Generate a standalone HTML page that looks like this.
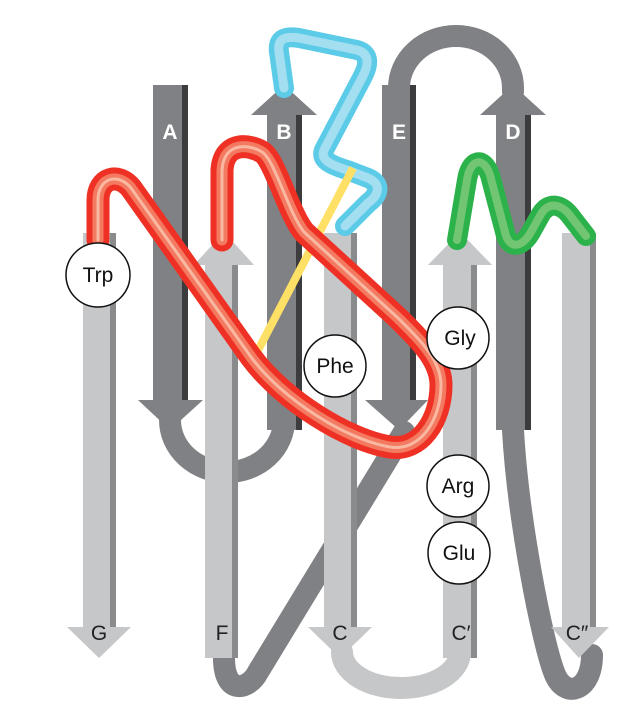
<!DOCTYPE html>
<html><head><meta charset="utf-8"><style>html,body{margin:0;padding:0;background:#fff}svg{display:block}</style></head>
<body>
<svg width="617" height="701" viewBox="0 0 617 701" xmlns="http://www.w3.org/2000/svg">
<g fill="none" stroke-linecap="round" stroke-linejoin="round">
<path d="M170,420 A57,52 0 0 0 284,420" stroke="#808184" stroke-width="22"/>
<path d="M399,92 L399,88 A57,52 0 0 1 513,88 L513,92" stroke="#808184" stroke-width="22"/>
<path d="M404,432 L258,672 C249,690 224,696 224,658" stroke="#808184" stroke-width="22"/>
<path d="M513,430 C518,520 542,640 554,672 C564,700 592,692 592,655" stroke="#808184" stroke-width="22"/>
<path d="M342,652 A59,36 0 0 0 460,652" stroke="#c6c7c9" stroke-width="22"/>
</g>
<g stroke="none">
<polygon points="83,233 116,233 116,627 131,627 99,658 67,627 83,627" fill="#c6c7c9"/>
<rect x="110" y="233" width="6" height="394" fill="#8a8b8d"/>
<polygon points="324,233 357,233 357,627 372,627 340,658 308,627 324,627" fill="#c6c7c9"/>
<rect x="351" y="233" width="6" height="394" fill="#8a8b8d"/>
<polygon points="562,233 596,233 596,627 609,627 579,658 551,627 562,627" fill="#c6c7c9"/>
<rect x="590" y="233" width="6" height="394" fill="#8a8b8d"/>
<polygon points="205,658 238,658 238,265 254,265 224,232 194,265 205,265" fill="#c6c7c9"/>
<rect x="232" y="265" width="6" height="393" fill="#8a8b8d"/>
<polygon points="443,658 477,658 477,265 492,265 460,232 428,265 443,265" fill="#c6c7c9"/>
<rect x="471" y="265" width="6" height="393" fill="#8a8b8d"/>
<polygon points="153,85 188,85 188,400 203,400 170,430 138,400 153,400" fill="#808184"/>
<rect x="182" y="85" width="6" height="315" fill="#3c3c3e"/>
<polygon points="382,85 416,85 416,400 428,400 399,430 365,400 382,400" fill="#808184"/>
<rect x="410" y="85" width="6" height="315" fill="#3c3c3e"/>
<polygon points="267,430 302,430 302,115 317,115 284,85 251,115 267,115" fill="#808184"/>
<rect x="296" y="115" width="6" height="315" fill="#3c3c3e"/>
<polygon points="496,430 531,430 531,115 546,115 513,85 480,115 496,115" fill="#808184"/>
<rect x="525" y="115" width="6" height="315" fill="#3c3c3e"/>
</g>
<g font-family="Liberation Sans, sans-serif" font-size="21" text-anchor="middle">
<text x="170" y="139" fill="#fff" font-weight="bold">A</text>
<text x="284" y="139" fill="#fff" font-weight="bold">B</text>
<text x="399" y="139" fill="#fff" font-weight="bold">E</text>
<text x="513" y="139" fill="#fff" font-weight="bold">D</text>
<text x="99" y="640" fill="#222">G</text>
<text x="222" y="640" fill="#222">F</text>
<text x="340" y="640" fill="#222">C</text>
<text x="461" y="640" fill="#222">C′</text>
<text x="577" y="640" fill="#222">C″</text>
</g>
<g fill="none" stroke-linecap="round" stroke-linejoin="round">
<path d="M284,88 L279,52 C277,38 286,36 299,38 L357,50 C371,54 368,66 363,76 L324,150 C320,160 331,165 347,170 L368,178 C382,184 379,195 368,203 L345,226" stroke="#5ccbe8" stroke-width="20"/>
<path d="M284,88 L279,52 C277,38 286,36 299,38 L357,50 C371,54 368,66 363,76 L324,150 C320,160 331,165 347,170 L368,178 C382,184 379,195 368,203 L345,226" stroke="#a3dff1" stroke-width="9"/>
<path d="M353,168 L254,358" stroke="#fee067" stroke-width="8" stroke-linecap="butt"/>
<path d="M98,240 L98,200 C98,178 118,172 131,188 L251,357 C283,400 347,440 390,447 C420,452 441,420 441,385 C441,360 420,340 398,318 L304,232 C288,212 275,160 262,152 C251,145 224,140 222,170 L222,240" stroke="#ee3124" stroke-width="23"/>
<path d="M98,240 L98,200 C98,178 118,172 131,188 L251,357 C283,400 347,440 390,447 C420,452 441,420 441,385 C441,360 420,340 398,318 L304,232 C288,212 275,160 262,152 C251,145 224,140 222,170 L222,240" stroke="#f37a61" stroke-width="11"/>
<path d="M98,240 L98,200 C98,178 118,172 131,188 L251,357 C283,400 347,440 390,447 C420,452 441,420 441,385 C441,360 420,340 398,318 L304,232 C288,212 275,160 262,152 C251,145 224,140 222,170 L222,240" stroke="#f9b8a2" stroke-width="3"/>
<path d="M457,240 L467,180 C470,160 483,155 490,175 L505,232 C509,250 522,248 531,232 L541,214 C550,200 563,205 572,218 L586,236" stroke="#2cb24b" stroke-width="20"/>
<path d="M457,240 L467,180 C470,160 483,155 490,175 L505,232 C509,250 522,248 531,232 L541,214 C550,200 563,205 572,218 L586,236" stroke="#72c673" stroke-width="8"/>
</g>
<g fill="#fff" stroke="#111" stroke-width="1.5">
<circle cx="98" cy="275" r="32"/>
<circle cx="335" cy="366" r="31"/>
<circle cx="458" cy="338" r="31"/>
<circle cx="458" cy="486" r="31"/>
<circle cx="459" cy="553" r="31"/>
</g>
<g font-family="Liberation Sans, sans-serif" font-size="21" text-anchor="middle" fill="#111">
<text x="98" y="282">Trp</text>
<text x="335" y="373">Phe</text>
<text x="460" y="345">Gly</text>
<text x="458" y="493">Arg</text>
<text x="459" y="560">Glu</text>
</g>
</svg>
</body></html>
